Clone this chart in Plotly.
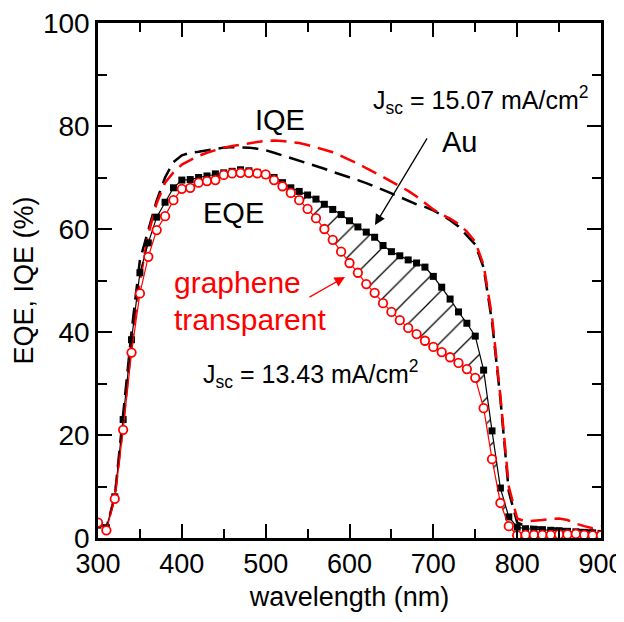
import plotly.graph_objects as go

wavelength = list(range(300, 901, 10))

eqe_au = [2.5, 2.0, 8.0, 23.0, 38.5, 51.5, 57.3, 62.3, 65.2, 68.0,
          69.5, 69.6, 70.0, 70.3, 70.7, 70.9, 71.2, 71.5, 71.3, 71.0,
          70.5, 70.0, 69.0, 68.0, 67.3, 66.6, 65.8, 64.8, 63.8, 62.8,
          61.6, 60.4, 59.4, 58.4, 56.8, 55.6, 54.8, 54.0, 53.4, 52.6,
          50.8, 48.7, 46.4, 43.9, 41.7, 39.2, 32.6, 20.8, 9.7, 4.1,
          2.1, 1.8, 1.7, 1.6, 1.5, 1.4, 1.3, 1.2, 1.1, 1.0, 0.9]

eqe_gr = [3.0, 1.5, 7.6, 21.0, 36.0, 47.5, 54.6, 59.8, 62.5, 65.6,
          67.8, 68.0, 69.0, 69.3, 69.5, 70.5, 70.8, 70.9, 70.9, 70.8,
          70.6, 69.5, 68.3, 67.0, 65.6, 63.9, 62.1, 60.0, 57.9, 55.6,
          53.4, 51.5, 49.3, 47.6, 45.6, 43.9, 42.3, 40.8, 39.6, 38.3,
          37.1, 36.1, 35.1, 34.0, 32.8, 31.1, 25.2, 15.3, 6.8, 2.3,
          0.5, 0.6, 0.6, 0.6, 0.6, 0.7, 0.7, 0.8, 0.6, 0.5, 0.5]

iqe_au = [3.0, 2.0, 8.0, 23.5, 40.0, 54.0, 60.0, 65.5, 70.0, 73.0,
          74.3, 74.8, 75.0, 75.3, 75.5, 75.8, 75.9, 75.9, 75.8, 75.6,
          75.3, 74.8, 74.3, 73.8, 73.3, 72.7, 72.2, 71.7, 71.1, 70.6,
          70.1, 69.5, 68.9, 68.3, 67.6, 66.9, 66.2, 65.5, 64.8, 64.3,
          63.6, 62.7, 61.7, 60.5, 58.8, 57.0, 52.5, 42.0, 27.0, 9.0,
          3.0, 2.3, 2.1, 2.0, 1.9, 1.8, 1.7, 1.6, 1.5, 1.4, 1.3]

iqe_gr = [3.0, 1.8, 8.0, 22.0, 38.0, 50.0, 59.0, 65.0, 69.0, 71.0,
          72.5, 73.4, 74.2, 74.8, 75.3, 75.8, 76.1, 76.4, 76.7, 76.9,
          77.1, 77.2, 77.1, 76.9, 76.7, 76.3, 75.9, 75.4, 74.9, 74.2,
          73.5, 72.7, 71.8, 71.0, 70.1, 69.2, 68.3, 67.4, 66.3, 65.0,
          63.8, 62.8, 62.0, 61.0, 59.5, 57.5, 53.0, 43.0, 27.5, 10.0,
          3.8, 3.2, 3.3, 3.5, 3.7, 3.8, 3.5, 2.8, 2.3, 1.9, 2.3]

hatch_start, hatch_end = 530, 790

FONT = "Liberation Sans, Arial, sans-serif"
RED = "#ff0000"

i0 = wavelength.index(hatch_start)
i1 = wavelength.index(hatch_end) + 1

fig = go.Figure()

# IQE dashed curves
fig.add_trace(go.Scatter(x=wavelength, y=iqe_au, mode="lines",
                         line=dict(color="black", width=2.5, dash="16px,8px"),
                         hoverinfo="skip"))
fig.add_trace(go.Scatter(x=wavelength, y=iqe_gr, mode="lines",
                         line=dict(color=RED, width=2.5, dash="16px,8px"),
                         hoverinfo="skip"))

# Hatched area between the two EQE curves
fig.add_trace(go.Scatter(x=wavelength[i0:i1], y=eqe_gr[i0:i1], mode="lines",
                         line=dict(width=0, color="rgba(0,0,0,0)"),
                         hoverinfo="skip"))
fig.add_trace(go.Scatter(x=wavelength[i0:i1], y=eqe_au[i0:i1], mode="lines",
                         line=dict(width=0, color="rgba(0,0,0,0)"),
                         fill="tonexty", fillcolor="rgba(0,0,0,0)",
                         fillpattern=dict(shape="/", fgcolor="black",
                                          bgcolor="rgba(255,255,255,0)",
                                          size=18, solidity=0.07,
                                          fillmode="replace"),
                         hoverinfo="skip"))

# EQE curves
fig.add_trace(go.Scatter(x=wavelength, y=eqe_au, mode="lines+markers",
                         line=dict(color="black", width=1.2),
                         marker=dict(symbol="square", size=7, color="black"),
                         hoverinfo="skip"))
fig.add_trace(go.Scatter(x=wavelength, y=eqe_gr, mode="lines+markers",
                         line=dict(color=RED, width=1.2),
                         marker=dict(symbol="circle", size=8.5, color="white",
                                     line=dict(color=RED, width=1.8)),
                         hoverinfo="skip"))

axis_common = dict(
    showline=True, linecolor="black", linewidth=2.5, mirror="ticks",
    ticks="inside", ticklen=14, tickwidth=2, tickcolor="black",
    showgrid=False, zeroline=False, automargin=False,
    ticklabeloverflow="allow",
)

fig.update_xaxes(range=[300, 900], dtick=100, tick0=300,
                 tickfont=dict(family=FONT, size=27, color="black"),
                 minor=dict(dtick=50, ticks="inside", ticklen=9, tickwidth=2,
                            tickcolor="black", showgrid=False),
                 title=dict(text="wavelength (nm)", standoff=14,
                            font=dict(family=FONT, size=27, color="black")),
                 **axis_common)
fig.update_yaxes(range=[0, 100], dtick=20, tick0=0,
                 tickfont=dict(family=FONT, size=28, color="black"),
                 minor=dict(dtick=10, ticks="inside", ticklen=9, tickwidth=2,
                            tickcolor="black", showgrid=False),
                 title=dict(text="EQE, IQE (%)", standoff=2,
                            font=dict(family=FONT, size=27, color="black")),
                 **axis_common)

txt = dict(family=FONT, color="black")
annotations = [
    dict(x=517, y=81.2, text="IQE", font=dict(size=29, **txt)),
    dict(x=462, y=63.1, text="EQE", font=dict(size=29, **txt)),
    dict(x=731, y=76.9, text="Au", font=dict(size=29, **txt)),
    dict(x=757, y=85.0, text="J<sub>sc</sub> = 15.07 mA/cm<sup>2</sup>",
         font=dict(size=25, **txt)),
    dict(x=554, y=31.8, text="J<sub>sc</sub> = 13.43 mA/cm<sup>2</sup>",
         font=dict(size=25, **txt)),
    dict(x=388, y=49.7, text="graphene", xanchor="left",
         font=dict(size=30, family=FONT, color=RED)),
    dict(x=388, y=42.5, text="transparent", xanchor="left",
         font=dict(size=30, family=FONT, color=RED)),
]
for a in annotations:
    a.setdefault("xanchor", "center")
    fig.add_annotation(xref="x", yref="y", yanchor="middle", showarrow=False, **a)

# arrows
fig.add_annotation(x=630.4, y=60.8, ax=693.6, ay=77.9, xref="x", yref="y",
                   axref="x", ayref="y", text="", showarrow=True,
                   arrowhead=2, arrowsize=1.6, arrowwidth=1.3, arrowcolor="black")
fig.add_annotation(x=594.6, y=50.7, ax=550.5, ay=46.6, xref="x", yref="y",
                   axref="x", ayref="y", text="", showarrow=True,
                   arrowhead=2, arrowsize=1.6, arrowwidth=1.3, arrowcolor=RED)

fig.update_layout(
    width=616, height=604,
    margin=dict(l=90, r=23, t=15, b=74),
    paper_bgcolor="white", plot_bgcolor="white",
    showlegend=False,
    font=dict(family=FONT, color="black"),
)

fig.write_html(
    "out.html",
    post_script="document.documentElement.style.overflow='hidden';"
                "document.body.style.overflow='hidden';",
)
